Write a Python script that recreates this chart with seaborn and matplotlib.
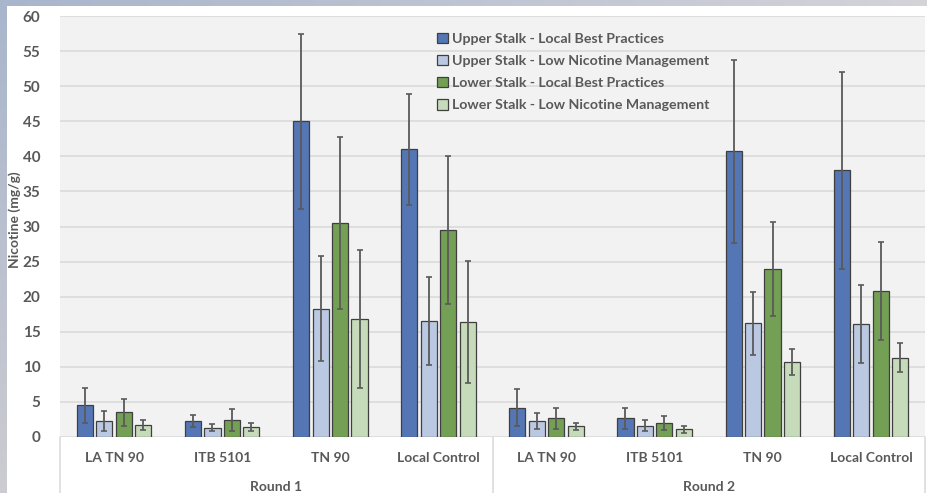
import numpy as np
import pandas as pd
import seaborn as sns
import matplotlib.pyplot as plt
from matplotlib.transforms import blended_transform_factory

# ---- data ----
rounds = ["Round 1", "Round 2"]
varieties = ["LA TN 90", "ITB 5101", "TN 90", "Local Control"]
series = [
    "Upper Stalk - Local Best Practices",
    "Upper Stalk - Low Nicotine Management",
    "Lower Stalk - Local Best Practices",
    "Lower Stalk - Low Nicotine Management",
]
# values ordered Round 1 (4 varieties) then Round 2 (4 varieties)
upper_lbp = [4.5, 2.3, 45.0, 41.0, 4.2, 2.7, 40.7, 38.0]
upper_lnm = [2.3, 1.3, 18.3, 16.5, 2.3, 1.6, 16.2, 16.1]
lower_lbp = [3.5, 2.4, 30.5, 29.5, 2.7, 2.0, 23.9, 20.8]
lower_lnm = [1.7, 1.4, 16.8, 16.4, 1.5, 1.1, 10.7, 11.3]
upper_lbp_err = [2.5, 0.9, 12.5, 7.9, 2.7, 1.5, 13.0, 14.0]
upper_lnm_err = [1.4, 0.5, 7.5, 6.3, 1.1, 0.8, 4.5, 5.5]
lower_lbp_err = [1.9, 1.6, 12.3, 10.5, 1.5, 1.0, 6.7, 7.0]
lower_lnm_err = [0.7, 0.6, 9.8, 8.7, 0.5, 0.5, 1.8, 2.1]

colors = ["#4472C4", "#B4C7E7", "#70AD47", "#C5E0B4"]

groups = [f"{r} | {v}" for r in rounds for v in varieties]
values = [upper_lbp, upper_lnm, lower_lbp, lower_lnm]
errors = [upper_lbp_err, upper_lnm_err, lower_lbp_err, lower_lnm_err]

rows = []
for s, vals, errs in zip(series, values, errors):
    for g, v, e in zip(groups, vals, errs):
        rows.append({"group": g, "series": s, "value": v, "err": e})
df = pd.DataFrame(rows)

# ---- style ----
sns.set_style("white")
plt.rcParams["font.family"] = ["Lato", "DejaVu Sans"]
text_color = "#595959"

W, H = 927, 493
fig = plt.figure(figsize=(W / 100, H / 100), dpi=100)
fig.patch.set_facecolor("white")

# window frame: thin tinted bands along the top and left edges
bg = fig.add_axes([0, 0, 1, 1], zorder=-10)
bg.set_axis_off()
img = np.ones((H, W, 3))
top_l = np.array([0.66, 0.71, 0.80])
top_r = np.array([0.83, 0.83, 0.85])
t = np.linspace(0, 1, W)[:, None]
img[:6, :, :] = (top_l * (1 - t) + top_r * t)[None, :, :]
s_ = np.linspace(0, 1, H)[:, None]
left_b = np.array([0.80, 0.80, 0.82])
img[:, :7, :] = (top_l * (1 - s_) + left_b * s_)[:, None, :]
bg.imshow(img, extent=[0, 1, 0, 1], aspect="auto", transform=bg.transAxes)

left, right, top, bottom = 60, 925, 16, 437
ax = fig.add_axes([left / W, 1 - bottom / H, (right - left) / W, (bottom - top) / H])
ax.set_facecolor("#F2F2F2")

sns.barplot(
    data=df, x="group", y="value", hue="series",
    order=groups, hue_order=series, palette=colors,
    width=0.72, gap=0.17, edgecolor="#3F3F3F", linewidth=0.9,
    errorbar=None, ax=ax, zorder=3,
)

# error bars at the centre of each drawn bar
err_lookup = {(r["series"], r["group"]): r["err"] for _, r in df.iterrows()}
for s, cont in zip(series, ax.containers):
    xs, ys, es = [], [], []
    for bar in cont:
        xc = bar.get_x() + bar.get_width() / 2
        gi = int(round(xc))
        xs.append(xc)
        ys.append(bar.get_height())
        es.append(err_lookup[(s, groups[gi])])
    ax.errorbar(xs, ys, yerr=es, fmt="none", ecolor="#5A5A5A",
                elinewidth=1.3, capsize=2.5, capthick=1.2, zorder=4)

ax.set_ylim(0, 60)
ax.set_xlim(-0.5, len(groups) - 0.5)
ax.set_yticks(np.arange(0, 61, 5))
ax.yaxis.grid(True, color="#D9D9D9", linewidth=1.1, zorder=0)
ax.set_axisbelow(True)
for sp in ax.spines.values():
    sp.set_visible(False)
ax.tick_params(axis="both", length=0)
ax.tick_params(axis="y", pad=14, labelsize=11, labelcolor=text_color)
ax.tick_params(axis="x", pad=11, labelsize=10, labelcolor=text_color)
ax.set_xticks(range(len(groups)))
ax.set_xticklabels([v for r in rounds for v in varieties])
for lab in ax.get_xticklabels() + ax.get_yticklabels():
    lab.set_fontweight("bold")

ax.set_xlabel("")
ax.set_ylabel("")
fig.text(15 / W, 1 - 220 / H, "Nicotine (mg/g)", rotation=90, ha="center",
         va="center", fontsize=10, fontweight="bold", color=text_color)

# second level of category labels and separators
tr = blended_transform_factory(ax.transData, ax.transAxes)
ax_h = bottom - top
for i, r in enumerate(rounds):
    ax.text(i * 4 + 1.5, -50 / ax_h, r, transform=tr, ha="center", va="center",
            fontsize=10, fontweight="bold", color=text_color)
for xsep in [-0.5, 3.5, 7.5]:
    ax.plot([xsep, xsep], [0, -(H - bottom) / ax_h], transform=tr,
            color="#D9D9D9", linewidth=1.1, clip_on=False)

# legend
handles, labels = ax.get_legend_handles_labels()
ax.legend(handles, labels, loc="upper left",
          bbox_to_anchor=(437 / W, 1 - 33 / H), bbox_transform=fig.transFigure,
          frameon=False, handlelength=0.75, handleheight=0.75,
          handletextpad=0.3, labelspacing=0.7, borderpad=0, borderaxespad=0,
          prop={"weight": "bold", "size": 10.2})
for txt in ax.get_legend().get_texts():
    txt.set_color(text_color)

fig.savefig("out.png", dpi=100)
